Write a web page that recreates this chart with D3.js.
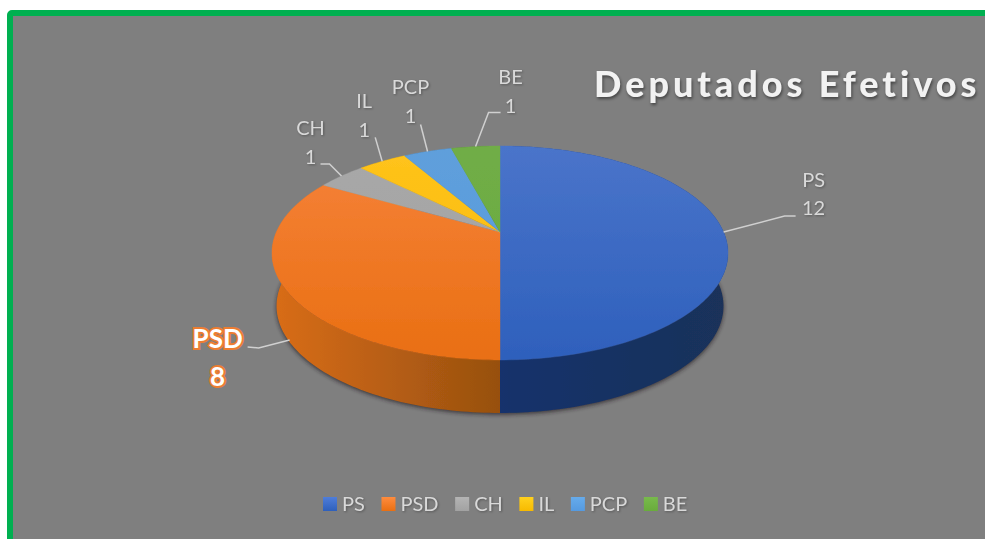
<!DOCTYPE html>
<meta charset="utf-8" />
<style>
  html, body { margin: 0; padding: 0; background: white; overflow: hidden; }
  text { font-family: Lato, sans-serif; }
  .lbl { fill: #d9d9d9; font-size: 20px; filter: drop-shadow(1px 1px 1px rgba(0,0,0,0.3)); }
  .psd { fill: white; font-size: 26px; font-weight: 700; stroke: #ed7d31; stroke-width: 4px; paint-order: stroke; }
  .title { fill: #f2f2f2; font-size: 36px; font-weight: 900; letter-spacing: 3.95px; filter: drop-shadow(1px 2px 1.5px rgba(0,0,0,0.45)); }
  .leader { fill: none; stroke: #d0d0d0; stroke-width: 1.5px; }
</style>
<body>
  <svg id="chart" width="985" height="539"></svg>
</body>
<script src="https://d3js.org/d3.v7.min.js"></script>
<script>
  // chart data
  const parties = ["PS", "PSD", "CH", "IL", "PCP", "BE"];
  const seats = [12, 8, 1, 1, 1, 1];

  // top, bottom colour of the upper face
  const topFrom = ["#4a74ca", "#f6823a", "#a8a8a8", "#ffc31c", "#5f9fdb", "#70ad47"];
  const topTo = ["#2e60bc", "#e96f12", "#a2a2a2", "#f7ba00", "#559ae0", "#69ac3c"];
  // inner, outer colour of the wall
  const wallIn = ["#15326c", "#97500f", "#777", "#b08500", "#3a6c96", "#4e7a30"];
  const wallOut = ["#1a3059", "#d96d18", "#777", "#b08500", "#3a6c96", "#4e7a30"];

  const svg = d3.select("#chart");

  // background and green frame
  svg.append("rect")
    .attr("x", 10).attr("y", 13).attr("width", 1100).attr("height", 700).attr("rx", 2)
    .attr("fill", "#7f7f7f").attr("stroke", "#00b050").attr("stroke-width", 6);

  const defs = svg.append("defs");
  defs.append("filter").attr("id", "blur").attr("x", "-10%").attr("y", "-10%").attr("width", "120%").attr("height", "120%")
    .append("feGaussianBlur").attr("stdDeviation", 2.2);
  defs.append("filter").attr("id", "soft")
    .append("feGaussianBlur").attr("stdDeviation", 0.5);

  // the disc is tilted with some perspective, so the apex sits above the middle of the ellipse
  const apexX = 500, apexY = 232, depth = 53, lowerInset = 0.98;
  const k = 0.196, scaleU = 223.6, scaleV = 102.9;

  function project(r, angle) {
    const u = r * Math.sin(angle), v = -r * Math.cos(angle);
    const w = 1 - k * v;
    return [apexX + (scaleU * u) / w, apexY + (scaleV * v) / w];
  }

  // same rim point, moved down to the lower edge of the wall
  const lowerEdge = (p) => [apexX + (p[0] - apexX) * lowerInset, p[1] + depth];

  const slices = d3.pie().sort(null)(seats).map((d, i) => ({ ...d, name: parties[i], i: i }));
  const line = d3.line();

  // points along the rim between two angles
  function rim(a0, a1) {
    const n = Math.max(2, Math.ceil((a1 - a0) / 0.02));
    return d3.range(n + 1).map((j) => project(1, a0 + ((a1 - a0) * j) / n));
  }

  // gradients
  slices.forEach((d) => {
    const g = defs.append("linearGradient").attr("id", "top" + d.i)
      .attr("gradientUnits", "userSpaceOnUse").attr("x1", 0).attr("x2", 0).attr("y1", 146).attr("y2", 360);
    g.append("stop").attr("offset", 0).attr("stop-color", topFrom[d.i]);
    g.append("stop").attr("offset", 1).attr("stop-color", topTo[d.i]);

    const w = defs.append("linearGradient").attr("id", "wall" + d.i)
      .attr("gradientUnits", "userSpaceOnUse").attr("x1", apexX).attr("y1", 0)
      .attr("x2", d.i === 0 ? 729 : 272).attr("y2", 0);
    w.append("stop").attr("offset", 0).attr("stop-color", wallIn[d.i]);
    w.append("stop").attr("offset", 1).attr("stop-color", wallOut[d.i]);
  });

  // soft shadow under the walls
  const whole = rim(0, 2 * Math.PI).map(lowerEdge);
  svg.append("path")
    .attr("d", line(whole) + "Z")
    .attr("fill", "#241a22").attr("opacity", 0.75)
    .attr("transform", "translate(0,1.5)")
    .attr("filter", "url(#blur)");

  const pie3d = svg.append("g").attr("filter", "url(#soft)");

  // walls first, the upper face covers whatever is behind
  pie3d.selectAll(".wall")
    .data(slices)
    .join("path")
    .attr("class", "wall")
    .attr("fill", (d) => `url(#wall${d.i})`)
    .attr("d", (d) => {
      const upper = rim(d.startAngle, d.endAngle);
      const lower = upper.map(lowerEdge).reverse();
      return line(upper.concat(lower)) + "Z";
    });

  // upper face
  pie3d.selectAll(".face")
    .data(slices)
    .join("path")
    .attr("class", "face")
    .attr("fill", (d) => `url(#top${d.i})`)
    .attr("stroke", (d) => `url(#top${d.i})`)
    .attr("stroke-width", 0.4)
    .attr("d", (d) => line([[apexX, apexY]].concat(rim(d.startAngle, d.endAngle))) + "Z");

  // leader bends and label places, relative to where the leader leaves the slice
  const labelLayout = {
    PS: { bend: [[61, -16], [72, -16]], text: [90, -53], gap: 28, wall: false },
    PSD: { bend: [[-31, 8], [-42, 7]], text: [-72, -2], gap: 38, wall: true },
    CH: { bend: [[-12, -12], [-21, -12]], text: [-31, -49], gap: 29, wall: false },
    IL: { bend: [[-7, -24]], text: [-18, -61], gap: 29, wall: false },
    PCP: { bend: [[-7, -27]], text: [-17, -66], gap: 29, wall: false },
    BE: { bend: [[13, -34], [25, -34]], text: [35, -71], gap: 29, wall: false },
  };

  slices.forEach((d) => {
    const at = labelLayout[d.name];
    const rimPoint = project(1, (d.startAngle + d.endAngle) / 2);
    const p = at.wall ? [apexX + (rimPoint[0] - apexX) * lowerInset, rimPoint[1] + depth - 2] : rimPoint;
    const x0 = p[0], y0 = p[1];

    svg.append("path")
      .attr("class", "leader")
      .attr("d", line([[x0, y0]].concat(at.bend.map((b) => [x0 + b[0], y0 + b[1]]))));

    [d.name, String(d.value)].forEach((s, j) => {
      svg.append("text")
        .attr("class", d.name === "PSD" ? "psd" : "lbl")
        .attr("text-anchor", "middle")
        .attr("dominant-baseline", "central")
        .attr("x", x0 + at.text[0])
        .attr("y", y0 + at.text[1] + j * at.gap)
        .text(s);
    });
  });

  // title
  svg.append("text")
    .attr("class", "title")
    .attr("x", 594)
    .attr("y", 97)
    .text("Deputados Efetivos");

  // legend, laid out from its own text widths
  let legendX = 323;
  slices.forEach((d) => {
    const item = svg.append("g");
    item.append("rect")
      .attr("x", legendX).attr("y", 497).attr("width", 14).attr("height", 14)
      .attr("fill", `url(#leg${d.i})`);
    const lg = defs.append("linearGradient").attr("id", "leg" + d.i).attr("x1", 0).attr("x2", 0).attr("y1", 0).attr("y2", 1);
    lg.append("stop").attr("offset", 0).attr("stop-color", d3.color(topFrom[d.i]).brighter(0.2));
    lg.append("stop").attr("offset", 1).attr("stop-color", topTo[d.i]);
    const t = item.append("text")
      .attr("class", "lbl")
      .attr("x", legendX + 19)
      .attr("y", 503)
      .attr("dominant-baseline", "central")
      .text(d.name);
    legendX += 19 + t.node().getComputedTextLength() + 16.6;
  });
</script>
